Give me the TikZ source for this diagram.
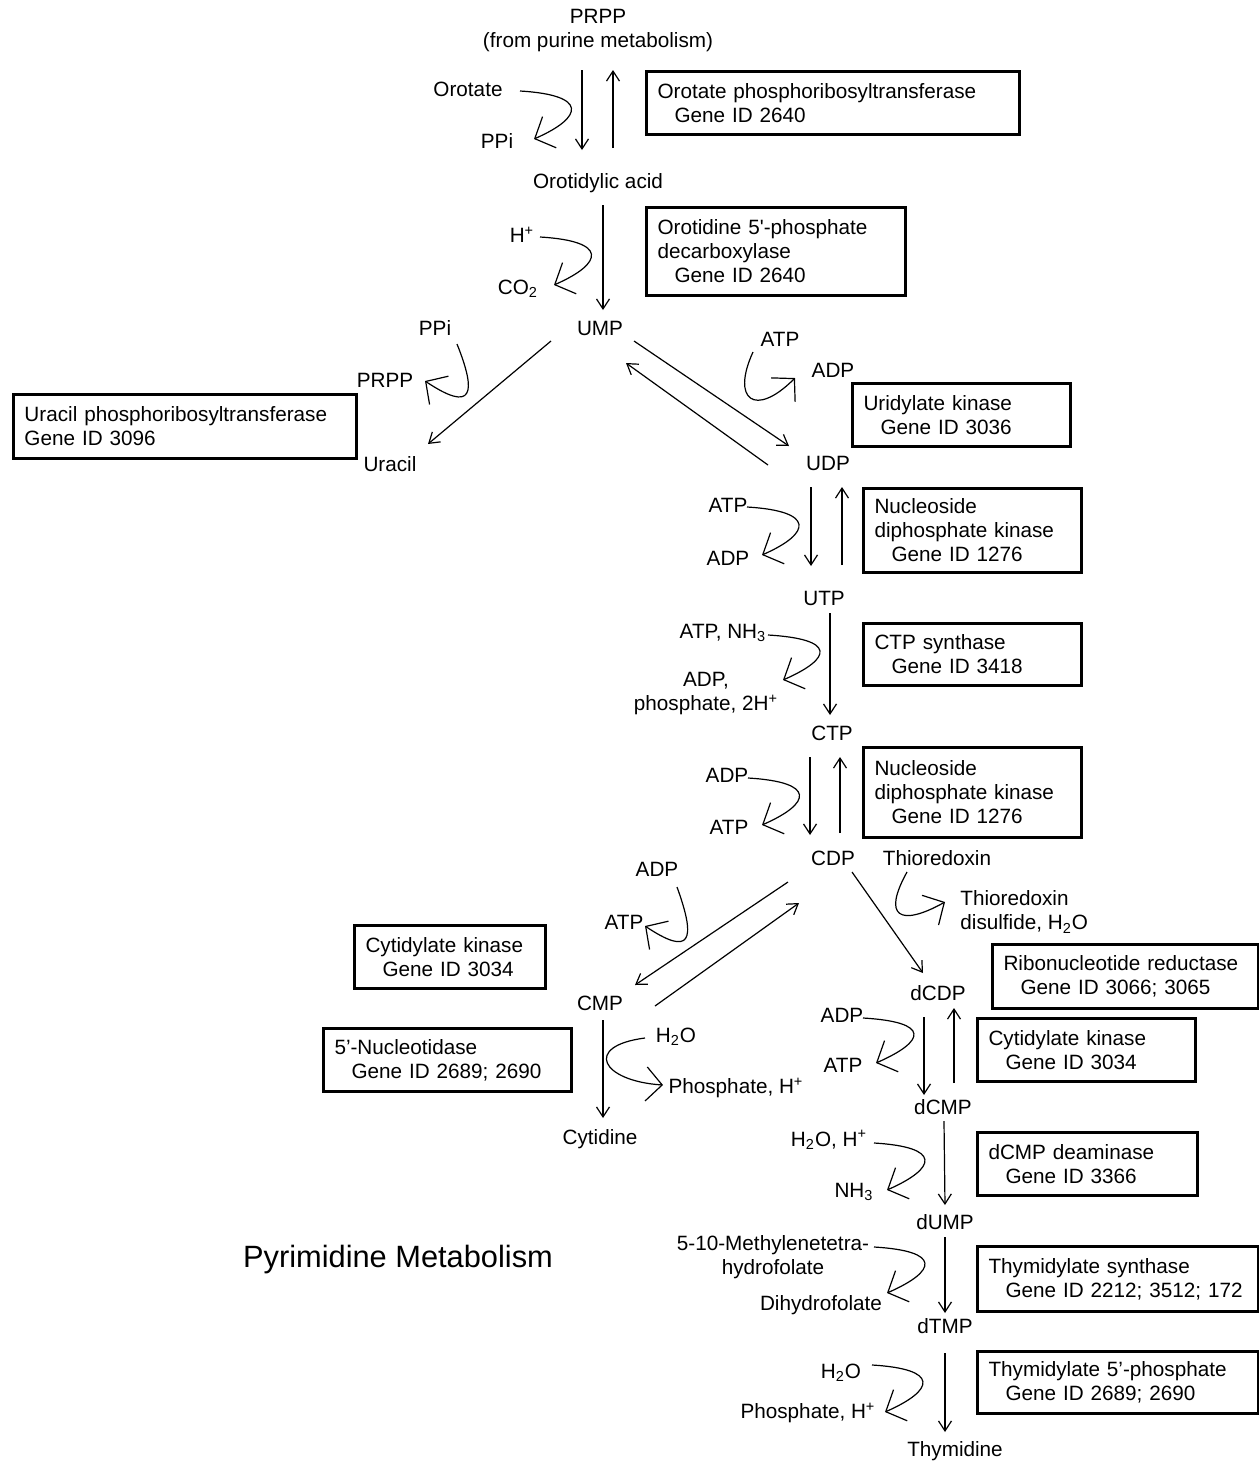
\documentclass[tikz,border=0pt]{standalone}
\usepackage{fontspec}
\setmainfont{Liberation Sans}
\usetikzlibrary{arrows.meta}

\tikzset{
  met/.style={inner sep=0pt},
  rx/.style={-{Straight Barb[length=5pt,width=6.5pt]}, line width=0.6pt},
  cof/.style={-{Straight Barb[length=8pt,width=17pt]}, line width=0.6pt},
  enz/.style={draw, line width=1.5pt, anchor=north west, align=left,
    inner xsep=5.5pt, inner ysep=2pt},
}
\newcommand{\geneind}{\hspace*{8.5pt}}

\begin{document}
\begin{tikzpicture}[x=0.5pt,y=-0.5pt,font=\fontsize{10.35}{12}\selectfont]
\useasboundingbox (0,0) rectangle (1259,1464);

% main metabolites
\node[met, align=center] (prpp) at (598,31) {PRPP\\(from purine metabolism)};
\foreach \n/\x/\y/\t in {orot/598/183/Orotidylic acid, ump/600/328/UMP,
  uracil/390/464/Uracil, udp/828/463/UDP, utp/824/598/UTP, ctp/832/733/CTP,
  cdp/833/858/CDP, cmp/600/1003/CMP, cytidine/600/1139/Cytidine,
  dcdp/938/993/dCDP, dcmp/943/1107/dCMP, dump/945/1222/dUMP,
  dtmp/945/1326/dTMP, thymidine/955/1451/Thymidine}
{
  \node[met] (\n) at (\x,\y) {\t};
}

% cofactors
\node[met] (orotate) at (468,89) {Orotate};
\node[met] (ppiA) at (497,141) {PPi};
\node[met] (hplus) at (522,235) {H\textsuperscript{+}};
\node[met] (co2) at (518,289) {CO\textsubscript{2}};
\node[met] (ppiB) at (435,328) {PPi};
\node[met] (prppB) at (385,380) {PRPP};
\node[met] (atpA) at (780,339) {ATP};
\node[met] (adpA) at (833,370) {ADP};
\node[met] (atpB) at (728,505) {ATP};
\node[met] (adpB) at (728,558) {ADP};
\node[met] (atpnh) at (723,633) {ATP, NH\textsubscript{3}};
\node[met, align=center] (adpph) at (706,694) {ADP,\\phosphate, 2H\textsuperscript{+}};
\node[met] (adpC) at (727,775) {ADP};
\node[met] (atpC) at (729,827) {ATP};
\node[met] (adpD) at (657,869) {ADP};
\node[met] (atpD) at (624,922) {ATP};
\node[met] (thio) at (937,858) {Thioredoxin};
\node[met, align=left, anchor=west] (thiods) at (960,912) {Thioredoxin\\disulfide, H\textsubscript{2}O};
\node[met] (h2oA) at (676,1037) {H\textsubscript{2}O};
\node[met] (phosA) at (736,1088) {Phosphate, H\textsuperscript{+}};
\node[met] (adpE) at (842,1015) {ADP};
\node[met] (atpE) at (843,1065) {ATP};
\node[met] (h2oh) at (829,1140) {H\textsubscript{2}O, H\textsuperscript{+}};
\node[met] (nh3) at (854,1192) {NH\textsubscript{3}};
\node[met, align=center] (mthf) at (773,1257) {5-10-Methylenetetra-\\hydrofolate};
\node[met] (dhf) at (821,1305) {Dihydrofolate};
\node[met] (h2oB) at (841,1373) {H\textsubscript{2}O};
\node[met] (phosB) at (808,1413) {Phosphate, H\textsuperscript{+}};

% enzymes
\node[enz, text width=175.5pt, minimum height=31.5pt] (optase) at (645,70)
  {Orotate phosphoribosyltransferase\\\geneind Gene ID 2640};
\node[enz, text width=118.5pt, minimum height=44pt] (odcase) at (645,206)
  {Orotidine 5\textquotesingle-phosphate\\decarboxylase\\\geneind Gene ID 2640};
\node[enz, text width=160.5pt, minimum height=32pt] (uprtase) at (12,393)
  {Uracil phosphoribosyltransferase\\Gene ID 3096};
\node[enz, text width=98pt, minimum height=31.5pt] (ukin) at (851,382)
  {Uridylate kinase\\\geneind Gene ID 3036};
\node[enz, text width=98pt, minimum height=42pt] (ndkA) at (862,487)
  {Nucleoside\\diphosphate kinase\\\geneind Gene ID 1276};
\node[enz, text width=98pt, minimum height=31pt] (ctps) at (862,622)
  {CTP synthase\\\geneind Gene ID 3418};
\node[enz, text width=98pt, minimum height=45pt] (ndkB) at (862,746)
  {Nucleoside\\diphosphate kinase\\\geneind Gene ID 1276};
\node[enz, text width=84.5pt, minimum height=31.5pt] (ckinA) at (353,924)
  {Cytidylate kinase\\\geneind Gene ID 3034};
\node[enz, text width=113pt, minimum height=31.5pt] (ntase) at (322,1027)
  {5’-Nucleotidase\\\geneind Gene ID 2689; 2690};
\node[enz, text width=122pt, minimum height=32pt] (rnr) at (991,943)
  {Ribonucleotide reductase\\\geneind Gene ID 3066; 3065};
\node[enz, text width=98pt, minimum height=31.5pt] (ckinB) at (976,1017)
  {Cytidylate kinase\\\geneind Gene ID 3034};
\node[enz, text width=99pt, minimum height=31.5pt] (dcmpd) at (976,1131)
  {dCMP deaminase\\\geneind Gene ID 3366};
\node[enz, text width=129.5pt, minimum height=32.5pt] (tyms) at (976,1245)
  {Thymidylate synthase\\\geneind Gene ID 2212; 3512; 172};
\node[enz, text width=129.5pt, minimum height=31pt] (tpase) at (976,1350)
  {Thymidylate 5’-phosphate\\\geneind Gene ID 2689; 2690};

\node[font=\fontsize{15.4}{18}\selectfont] (title) at (398,1260) {Pyrimidine Metabolism};

% reactions
\draw[rx] ([shift={(-16,39)}]prpp.center) -- ([shift={(-16,-33)}]orot.center);
\draw[rx] ([shift={(15,-35)}]orot.center) -- ([shift={(15,39)}]prpp.center);
\draw[rx] ([shift={(5,22)}]orot.center) -- ([shift={(3,-18)}]ump.center);
\draw[rx] ([shift={(-49,13)}]ump.center) -- ([shift={(38,-20)}]uracil.center);
\draw[rx] ([shift={(34,13)}]ump.center) -- ([shift={(-39,-17)}]udp.center);
\draw[rx] ([shift={(-60,2)}]udp.center) -- ([shift={(26,35)}]ump.center);
\draw[rx] ([shift={(-17,24)}]udp.center) -- ([shift={(-13,-32)}]utp.center);
\draw[rx] ([shift={(18,-33)}]utp.center) -- ([shift={(14,24)}]udp.center);
\draw[rx] ([shift={(6,15)}]utp.center) -- ([shift={(-2,-18)}]ctp.center);
\draw[rx] ([shift={(-22,24)}]ctp.center) -- ([shift={(-23,-23)}]cdp.center);
\draw[rx] ([shift={(7,-25)}]cdp.center) -- ([shift={(8,24)}]ctp.center);
\draw[rx] ([shift={(-45,24)}]cdp.center) -- ([shift={(35,-18)}]cmp.center);
\draw[rx] ([shift={(55,3)}]cmp.center) -- ([shift={(-34,45)}]cdp.center);
\draw[rx] ([shift={(19,14)}]cdp.center) -- ([shift={(-15,-20)}]dcdp.center);
\draw[rx] ([shift={(-14,24)}]dcdp.center) -- ([shift={(-19,-12)}]dcmp.center);
\draw[rx] ([shift={(11,-24)}]dcmp.center) -- ([shift={(16,15)}]dcdp.center);
\draw[rx] ([shift={(1,14)}]dcmp.center) -- ([shift={(0,-17)}]dump.center);
\draw[rx] ([shift={(0,15)}]dump.center) -- ([shift={(0,-13)}]dtmp.center);
\draw[rx] ([shift={(0,27)}]dtmp.center) -- ([shift={(-10,-19)}]thymidine.center);
\draw[rx] ([shift={(3,17)}]cmp.center) -- ([shift={(3,-21)}]cytidine.center);

% side reactions
\draw[cof] ([shift={(52,2)}]orotate.center) .. controls +(68,4) and +(50,-22) .. ([shift={(37,-2)}]ppiA.center);
\draw[cof] ([shift={(18,2)}]hplus.center) .. controls +(68,4) and +(50,-22) .. ([shift={(36,-4)}]co2.center);
\draw[cof] ([shift={(22,16)}]ppiB.center) .. controls +(20,50) and +(48,32) .. ([shift={(40,1)}]prppB.center);
\draw[cof] ([shift={(-27,13)}]atpA.center) .. controls +(-22,48) and +(-40,40) .. ([shift={(-38,8)}]adpA.center);
\draw[cof] ([shift={(19,2)}]atpB.center) .. controls +(68,4) and +(50,-22) .. ([shift={(34,-3)}]adpB.center);
\draw[cof] ([shift={(45,2)}]atpnh.center) .. controls +(68,4) and +(50,-22) .. ([shift={(77,-14)}]adpph.center);
\draw[cof] ([shift={(21,3)}]adpC.center) .. controls +(68,4) and +(50,-22) .. ([shift={(33,-2)}]atpC.center);
\draw[cof] ([shift={(20,18)}]adpD.center) .. controls +(20,55) and +(45,30) .. ([shift={(21,4)}]atpD.center);
\draw[cof] ([shift={(-30,14)}]thio.center) .. controls +(-25,45) and +(-45,25) .. ([shift={(-15,-10)}]thiods.west);
\draw[cof] ([shift={(-31,1)}]h2oA.center) .. controls +(-62,8) and +(-62,-4) .. ([shift={(-73,-3)}]phosA.center);
\draw[cof] ([shift={(21,3)}]adpE.center) .. controls +(68,4) and +(50,-22) .. ([shift={(33,-2)}]atpE.center);
\draw[cof] ([shift={(45,3)}]h2oh.center) .. controls +(68,4) and +(50,-22) .. ([shift={(33,-2)}]nh3.center);
\draw[cof] ([shift={(101,-10)}]mthf.center) .. controls +(68,4) and +(50,-22) .. ([shift={(66,-12)}]dhf.center);
\draw[cof] ([shift={(31,-8)}]h2oB.center) .. controls +(68,4) and +(50,-22) .. ([shift={(77,-1)}]phosB.center);

\end{tikzpicture}
\end{document}
